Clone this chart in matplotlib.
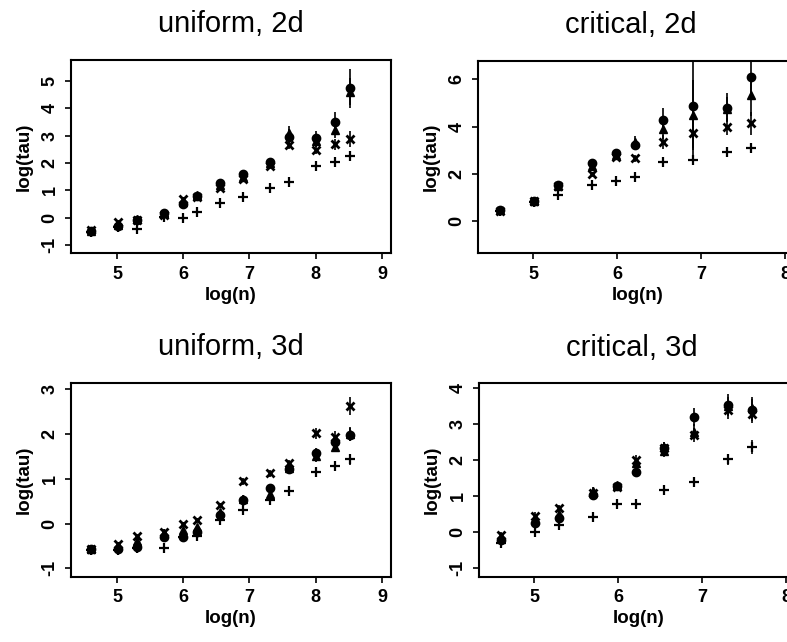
import numpy as np
import matplotlib
matplotlib.use("Agg")
import matplotlib.pyplot as plt

plt.rcParams['font.family'] = ['Liberation Sans', 'DejaVu Sans']

# sample sizes (x = log(n))
n_uniform = [100, 150, 200, 300, 400, 500, 700, 1000, 1500, 2000, 3000, 4000, 5000]
n_critical = [100, 150, 200, 300, 400, 500, 700, 1000, 1500, 2000]

# ---- uniform, 2d ----
u2_circle = [-0.50, -0.30, -0.08, 0.16, 0.50, 0.80, 1.28, 1.60, 2.05, 2.95, 2.92, 3.50, 4.72]
u2_tri    = [-0.50, -0.25, -0.05, 0.18, 0.58, 0.82, 1.20, 1.50, 2.00, 3.10, 2.80, 3.20, 4.60]
u2_cross  = [-0.45, -0.15, -0.10, 0.10, 0.70, 0.75, 1.10, 1.40, 1.90, 2.65, 2.47, 2.68, 2.88]
u2_plus   = [-0.52, -0.35, -0.42, 0.02, 0.00, 0.20, 0.55, 0.74, 1.10, 1.31, 1.89, 2.04, 2.25]
u2_circle_err = [0.03, 0.05, 0.05, 0.05, 0.08, 0.08, 0.08, 0.08, 0.10, 0.30, 0.25, 0.35, 0.70]
u2_tri_err    = [0.03, 0.05, 0.05, 0.05, 0.08, 0.08, 0.08, 0.08, 0.10, 0.25, 0.20, 0.30, 0.50]
u2_cross_err  = [0.03, 0.05, 0.05, 0.05, 0.05, 0.05, 0.05, 0.05, 0.08, 0.15, 0.15, 0.20, 0.30]
u2_plus_err   = [0.03, 0.05, 0.05, 0.05, 0.05, 0.05, 0.05, 0.05, 0.08, 0.08, 0.10, 0.10, 0.15]

# ---- critical, 2d ----
c2_circle = [0.46, 0.86, 1.52, 2.47, 2.89, 3.20, 4.30, 4.88, 4.81, 6.11]
c2_tri    = [0.46, 0.86, 1.50, 2.35, 2.80, 3.35, 3.88, 4.49, 4.75, 5.33]
c2_cross  = [0.44, 0.84, 1.50, 2.00, 2.72, 2.65, 3.33, 3.71, 4.00, 4.14]
c2_plus   = [0.42, 0.80, 1.10, 1.51, 1.69, 1.87, 2.51, 2.58, 2.93, 3.08]
c2_circle_err = [0.05, 0.05, 0.08, 0.10, 0.15, 0.20, 0.50, 2.45, 0.60, 1.00]
c2_tri_err    = [0.05, 0.05, 0.08, 0.10, 0.15, 0.25, 0.40, 1.50, 0.50, 0.90]
c2_cross_err  = [0.05, 0.05, 0.08, 0.08, 0.10, 0.15, 0.30, 0.60, 0.35, 0.50]
c2_plus_err   = [0.05, 0.05, 0.05, 0.08, 0.08, 0.10, 0.15, 0.20, 0.20, 0.20]

# ---- uniform, 3d ----
u3_circle = [-0.58, -0.57, -0.53, -0.30, -0.31, -0.20, 0.18, 0.53, 0.80, 1.23, 1.57, 1.83, 1.99]
u3_tri    = [-0.57, -0.50, -0.40, -0.22, -0.15, -0.08, 0.25, 0.55, 0.67, 1.25, 1.50, 1.72, 2.00]
u3_cross  = [-0.56, -0.45, -0.29, -0.18, -0.01, 0.08, 0.41, 0.94, 1.12, 1.35, 2.02, 1.94, 2.63]
u3_plus   = [-0.60, -0.60, -0.55, -0.55, -0.30, -0.27, 0.08, 0.30, 0.53, 0.73, 1.16, 1.29, 1.44]
u3_circle_err = [0.03, 0.04, 0.04, 0.05, 0.05, 0.05, 0.06, 0.08, 0.08, 0.08, 0.12, 0.12, 0.15]
u3_tri_err    = [0.03, 0.04, 0.04, 0.05, 0.05, 0.05, 0.06, 0.08, 0.08, 0.08, 0.12, 0.12, 0.15]
u3_cross_err  = [0.03, 0.04, 0.04, 0.05, 0.05, 0.05, 0.06, 0.08, 0.08, 0.08, 0.12, 0.12, 0.20]
u3_plus_err   = [0.03, 0.04, 0.04, 0.05, 0.05, 0.05, 0.06, 0.06, 0.06, 0.08, 0.10, 0.10, 0.12]

# ---- critical, 3d ----
c3_circle = [-0.20, 0.27, 0.41, 1.05, 1.29, 1.68, 2.35, 3.21, 3.54, 3.40]
c3_tri    = [-0.15, 0.35, 0.50, 1.15, 1.32, 1.92, 2.25, 2.80, 3.50, 3.45]
c3_cross  = [-0.08, 0.46, 0.67, 1.10, 1.27, 2.00, 2.35, 2.70, 3.40, 3.30]
c3_plus   = [-0.30, 0.02, 0.20, 0.43, 0.78, 0.80, 1.18, 1.41, 2.03, 2.38]
c3_circle_err = [0.08, 0.10, 0.10, 0.10, 0.08, 0.15, 0.15, 0.25, 0.30, 0.30]
c3_tri_err    = [0.08, 0.10, 0.10, 0.10, 0.08, 0.15, 0.15, 0.20, 0.25, 0.30]
c3_cross_err  = [0.08, 0.10, 0.10, 0.10, 0.08, 0.15, 0.15, 0.20, 0.25, 0.25]
c3_plus_err   = [0.05, 0.06, 0.06, 0.06, 0.06, 0.08, 0.08, 0.10, 0.15, 0.20]

panels = [
    dict(title="uniform, 2d", n=n_uniform, rect=[0.0902, 0.6059, 0.4066, 0.3006],
         xlim=(4.306, 9.136), ylim=(-1.29, 5.76), yticks=[-1, 0, 1, 2, 3, 4, 5],
         xticks=[5, 6, 7, 8, 9], title_x=0.5,
         series=[(u2_circle, u2_circle_err), (u2_tri, u2_tri_err),
                 (u2_cross, u2_cross_err), (u2_plus, u2_plus_err)]),
    dict(title="critical, 2d", n=n_critical, rect=[0.6074, 0.6059, 0.4066, 0.2990],
         xlim=(4.345, 8.155), ylim=(-1.36, 6.78), yticks=[0, 2, 4, 6],
         xticks=[5, 6, 7, 8], title_x=0.478,
         series=[(c2_circle, c2_circle_err), (c2_tri, c2_tri_err),
                 (c2_cross, c2_cross_err), (c2_plus, c2_plus_err)]),
    dict(title="uniform, 3d", n=n_uniform, rect=[0.0902, 0.1017, 0.4066, 0.3022],
         xlim=(4.306, 9.136), ylim=(-1.19, 3.15), yticks=[-1, 0, 1, 2, 3],
         xticks=[5, 6, 7, 8, 9], title_x=0.5,
         series=[(u3_circle, u3_circle_err), (u3_tri, u3_tri_err),
                 (u3_cross, u3_cross_err), (u3_plus, u3_plus_err)]),
    dict(title="critical, 3d", n=n_critical, rect=[0.6086, 0.1017, 0.4066, 0.3012],
         xlim=(4.345, 8.155), ylim=(-1.23, 4.14), yticks=[-1, 0, 1, 2, 3, 4],
         xticks=[5, 6, 7, 8], title_x=0.478,
         series=[(c3_circle, c3_circle_err), (c3_tri, c3_tri_err),
                 (c3_cross, c3_cross_err), (c3_plus, c3_plus_err)]),
]

markers = [
    dict(marker='o', ms=6, mfc='black', mec='black', mew=1.0),
    dict(marker='^', ms=6, mfc='black', mec='black', mew=1.0),
    dict(marker='x', ms=6, mfc='none', mec='black', mew=2.0),
    dict(marker='+', ms=7, mfc='none', mec='black', mew=1.6),
]

fig = plt.figure(figsize=(7.87, 6.42), dpi=100)

for p in panels:
    ax = fig.add_axes(p['rect'])
    x = np.log(np.array(p['n'], dtype=float))
    for (vals, errs), mk in zip(p['series'], markers):
        ax.errorbar(x, vals, yerr=errs, fmt='none', ecolor='black', elinewidth=1.2,
                    capsize=0, zorder=2)
        ax.plot(x, vals, linestyle='none', color='black', zorder=3, **mk)
    ax.set_xlim(*p['xlim'])
    ax.set_ylim(*p['ylim'])
    ax.set_xticks(p['xticks'])
    ax.set_yticks(p['yticks'])
    ax.set_xticklabels([str(t) for t in p['xticks']], fontsize=13, fontweight='bold')
    ax.set_yticklabels([str(t) for t in p['yticks']], fontsize=13, fontweight='bold',
                       rotation=90, va='center')
    ax.tick_params(direction='out', length=4, width=1.2, pad=5)
    for s in ax.spines.values():
        s.set_linewidth(1.5)
    ax.set_xlabel("log(n)", fontsize=13.5, fontweight='bold', labelpad=3)
    ax.set_ylabel("log(tau)", fontsize=13.5, fontweight='bold', labelpad=6)
    ax.set_title(p['title'], fontsize=21, x=p['title_x'], pad=20)

fig.savefig("out.png", dpi=100)
